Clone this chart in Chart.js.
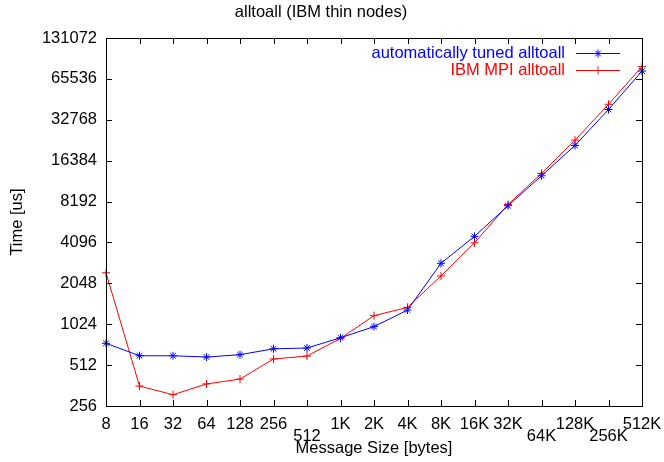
<!DOCTYPE html>
<html>
  <head>
    <meta charset="UTF-8" />
    <title>alltoall</title>
    <script src="https://cdn.jsdelivr.net/npm/chart.js"></script>
    <style>
      body { margin: 0; background: #fff; }
      #wrap { width: 664px; height: 462px; }
    </style>
  </head>
  <body>
    <div id="wrap"><canvas id="myChart"></canvas></div>
  </body>
  <script>
    const sizes = ["8", "16", "32", "64", "128", "256", "512", "1K", "2K", "4K", "8K", "16K", "32K", "64K", "128K", "256K", "512K"];
    // labels gnuplot pushed down one row so they don't collide
    const loweredLabels = ["512", "64K", "256K"];
    const tuned = [741, 600, 600, 587, 611, 675, 684, 814, 983, 1302, 2876, 4540, 7630, 12680, 21200, 39000, 74800];
    const ibm = [2450, 359, 310, 372, 404, 568, 597, 806, 1184, 1362, 2320, 4070, 7800, 13200, 23200, 42600, 80700];
    const yTicks = [256, 512, 1024, 2048, 4096, 8192, 16384, 32768, 65536, 131072];

    const FONT = "Liberation Sans, Arial, sans-serif";
    const FS = 16.5;

    // inside tick marks on all four sides + frame, gnuplot style
    const framePlugin = {
      id: "frame",
      afterDatasetsDraw(chart) {
        const { ctx, chartArea: a, scales } = chart;
        const tl = 6;
        ctx.save();
        ctx.strokeStyle = "#000";
        ctx.lineWidth = 1;
        ctx.beginPath();
        scales.x.ticks.forEach((t, i) => {
          const px = Math.round(scales.x.getPixelForTick(i)) + 0.5;
          ctx.moveTo(px, a.bottom);
          ctx.lineTo(px, a.bottom - tl);
          ctx.moveTo(px, a.top);
          ctx.lineTo(px, a.top + tl);
        });
        scales.y.ticks.forEach((t) => {
          const py = Math.round(scales.y.getPixelForValue(t.value)) + 0.5;
          ctx.moveTo(a.left, py);
          ctx.lineTo(a.left + tl, py);
          ctx.moveTo(a.right, py);
          ctx.lineTo(a.right - tl, py);
        });
        ctx.stroke();
        ctx.strokeRect(Math.round(a.left) + 0.5, Math.round(a.top) + 0.5, Math.round(a.right - a.left), Math.round(a.bottom - a.top));
        ctx.restore();
      },
    };

    // legend at the top right, text right aligned then line sample
    const keyPlugin = {
      id: "key",
      afterDraw(chart) {
        const { ctx } = chart;
        const textRight = 565, x0 = 576, x1 = 620;
        ctx.save();
        ctx.font = FS + "px " + FONT;
        ctx.textAlign = "right";
        ctx.textBaseline = "middle";
        chart.data.datasets.forEach((ds, i) => {
          const y = Math.round(53 + i * 16.5) + 0.5;
          ctx.fillStyle = ds.borderColor;
          ctx.fillText(ds.label, textRight, y);
          ctx.strokeStyle = ds.borderColor;
          ctx.lineWidth = 1;
          ctx.beginPath();
          ctx.moveTo(x0, y);
          ctx.lineTo(x1, y);
          ctx.stroke();
          Chart.helpers.drawPoint(ctx, { pointStyle: ds.pointStyle, radius: ds.pointRadius, borderWidth: 1, rotation: 0 }, (x0 + x1) / 2, y);
        });
        ctx.restore();
      },
    };

    new Chart(document.getElementById("myChart"), {
      type: "line",
      data: {
        labels: sizes,
        datasets: [
          {
            label: "automatically tuned alltoall",
            data: tuned,
            borderColor: "#0000ff",
            backgroundColor: "#0000ff",
            borderWidth: 1,
            pointStyle: "star",
            pointRadius: 4,
            pointBorderWidth: 1,
            tension: 0,
          },
          {
            label: "IBM MPI alltoall",
            data: ibm,
            borderColor: "#ff0000",
            backgroundColor: "#ff0000",
            borderWidth: 1,
            pointStyle: "cross",
            pointRadius: 4,
            pointBorderWidth: 1,
            tension: 0,
          },
        ],
      },
      options: {
        responsive: true,
        maintainAspectRatio: false,
        animation: false,
        devicePixelRatio: 1,
        layout: { padding: { left: 0, right: 22, top: 0, bottom: 0 } },
        plugins: {
          legend: { display: false },
          tooltip: { enabled: false },
          title: {
            display: true,
            text: "alltoall (IBM thin nodes)",
            color: "#000",
            font: { family: FONT, size: FS, weight: "normal" },
            padding: { top: 3, bottom: 15.2 },
          },
        },
        scales: {
          x: {
            type: "category",
            grid: { display: false, drawTicks: false },
            border: { display: false },
            ticks: {
              color: "#000",
              font: { family: FONT, size: FS, lineHeight: 0.75 },
              padding: 12,
              autoSkip: false,
              maxRotation: 0,
              callback: function (v) {
                const s = this.getLabelForValue(v);
                return loweredLabels.includes(s) ? ["", s] : s;
              },
            },
            title: {
              display: true,
              text: "Message Size [bytes]",
              color: "#000",
              font: { family: FONT, size: FS },
              padding: { top: 0, bottom: 4 },
            },
            afterFit(scale) {
              scale.height = 56;
              scale.paddingLeft = 0;
              scale.paddingRight = 0;
            },
          },
          y: {
            type: "logarithmic",
            min: 256,
            max: 131072,
            grid: { display: false, drawTicks: false },
            border: { display: false },
            afterBuildTicks(scale) {
              scale.ticks = yTicks.map((v) => ({ value: v }));
            },
            ticks: {
              color: "#000",
              font: { family: FONT, size: FS },
              padding: 9,
              callback: (v) => String(v),
            },
            title: {
              display: true,
              text: "Time [us]",
              color: "#000",
              font: { family: FONT, size: FS },
              padding: { top: 8, bottom: 0 },
            },
            afterFit(scale) {
              scale.width = 106;
              scale.paddingTop = 0;
              scale.paddingBottom = 0;
            },
          },
        },
      },
      plugins: [framePlugin, keyPlugin],
    });
  </script>
</html>
